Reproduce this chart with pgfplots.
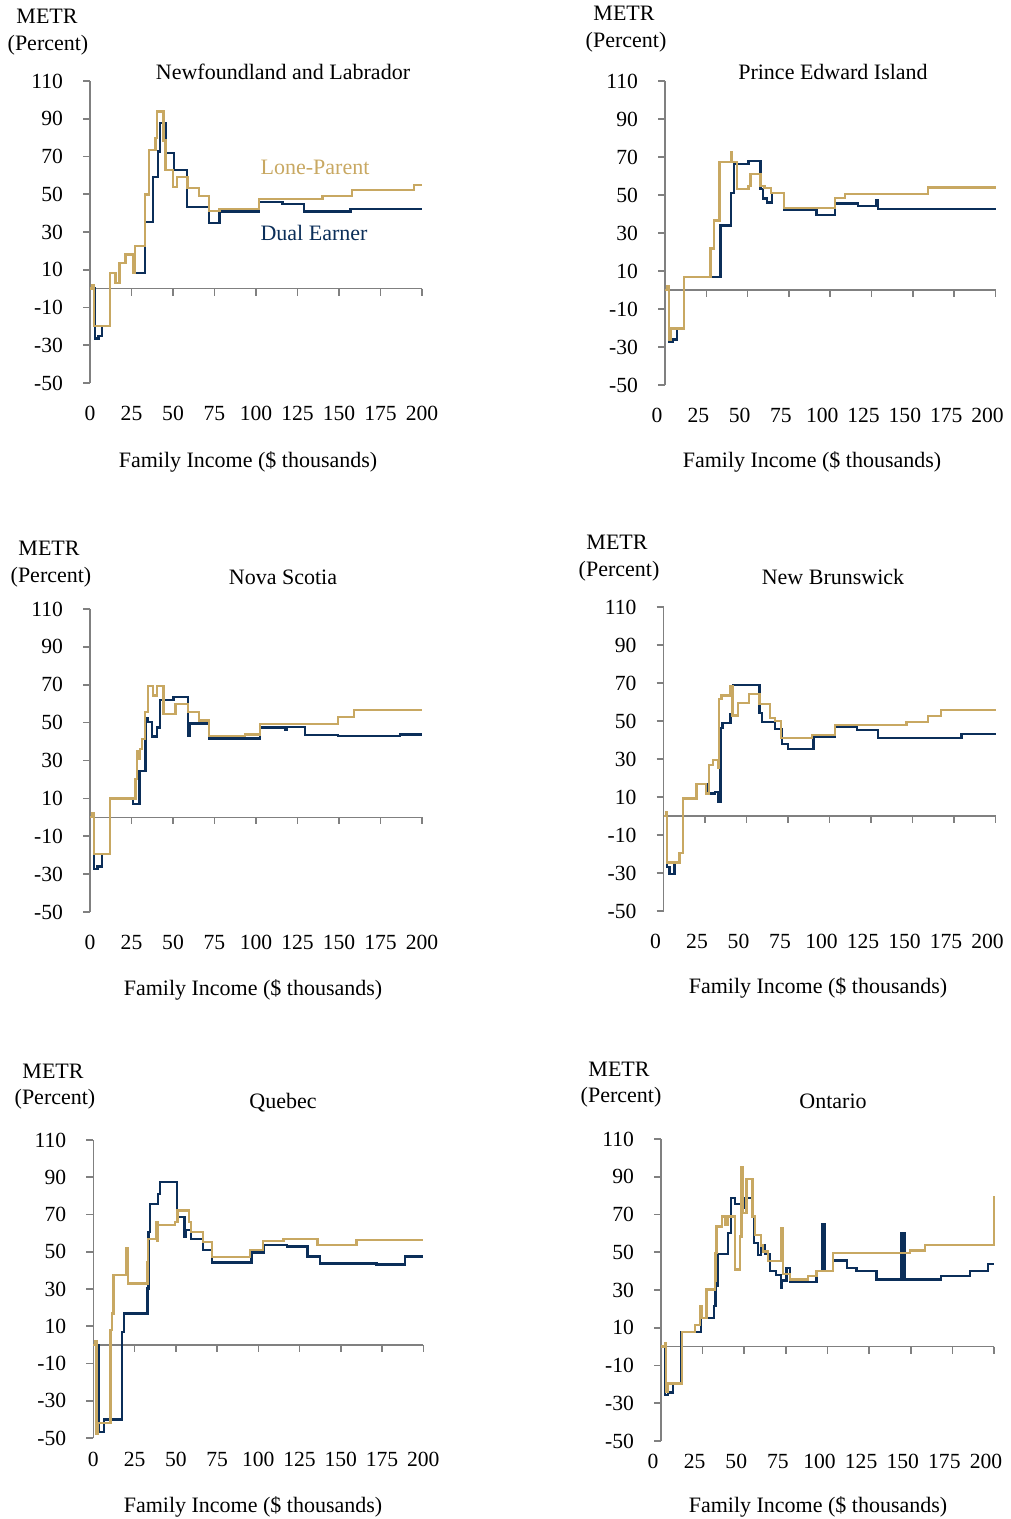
\documentclass[border=0pt]{standalone}
\usepackage{fontspec}
\setmainfont{Liberation Serif}
\usepackage{pgfplots}
\pgfplotsset{compat=1.18}
\definecolor{navy}{HTML}{0B2E59}
\definecolor{gold}{HTML}{C8A862}
\definecolor{axgray}{HTML}{808080}
\newcommand{\tf}{\fontsize{10.8}{13}\selectfont}
\pgfplotsset{
 metr/.style={
  scale only axis, anchor=south west,
  xmin=0,xmax=200,ymin=-50,ymax=110,
  axis x line*=bottom, axis y line*=left,
  x axis line style={draw=none},
  y axis line style={draw=axgray,line width=0.8pt,-},
  xtick={0,25,...,200}, ytick={-50,-30,...,110},
  xtick style={draw=none},
  ytick style={draw=axgray,line width=0.8pt},
  tick align=outside, major tick length=3.5pt,
  tick label style={font=\tf},
  /pgf/number format/assume math mode=true,
  yticklabel style={xshift=-6.5pt},
  xticklabel style={yshift=-4.5pt},
  clip=false,
  every axis plot/.append style={const plot, line width=1.15pt, no markers},
 },
 rightcol/.style={xticklabel style={xshift=-4pt}},
}
\newcommand{\zeroline}{%
 \draw[axgray,line width=0.8pt] (axis cs:0,0) -- (axis cs:200,0);
 \pgfplotsinvokeforeach{25,50,75,100,125,150,175,200}{\draw[axgray,line width=0.8pt] (axis cs:##1,0) -- (axis cs:##1,-3.7);}
}
\begin{document}
\begin{tikzpicture}
% ---------- Newfoundland and Labrador
\begin{axis}[metr, at={(45pt,-191.5pt)}, width=166pt, height=151pt]
\zeroline
\addplot[navy] coordinates {(0,0) (3,-26.4) (5.2,-25) (7.2,-19.7) (12,8.1) (15.3,2.8) (17.7,13.4) (21.3,18.1) (27.3,8.1) (33.3,35.2) (37.8,59.2) (40.8,72.7) (42.2,87.7) (45.8,71.8) (50.8,62.7) (58.4,43.3) (71.5,34.9) (78,40.8) (102,45.9) (116,44.7) (129,40.8) (157,42.2) (200,42.2)};
\addplot[gold] coordinates {(0,0) (1.5,2) (2.6,-19.7) (12,8.1) (15.3,2.8) (17.7,13.4) (21.3,18.1) (25.7,8.1) (27.3,22.5) (33.3,49.8) (35.7,73.6) (39.4,79.8) (40.2,93.8) (44.2,78.5) (45.4,63) (50.2,53.9) (52.2,59.2) (58.8,53.3) (65.5,48.9) (71.5,41.2) (78,42.2) (102,47.3) (140,49.2) (158,52.4) (195,54.8) (200,54.8)};
\end{axis}
% ---------- Prince Edward Island
\begin{axis}[metr, rightcol, at={(332.5pt,-192.5pt)}, width=165.25pt, height=152pt]
\zeroline
\addplot[navy] coordinates {(0,0) (2.6,-27.2) (4.6,-26) (7.3,-20.2) (11.7,7) (33.5,33.9) (40,51.2) (41.6,66.3) (50.5,68) (57.8,53) (59.2,48.2) (61.8,46) (64.6,50.9) (71.9,42.3) (91.7,39.5) (102.8,45.6) (116.9,44.2) (128,47.4) (129,42.6) (200,42.6)};
\addplot[gold] coordinates {(0,0) (1.5,1.8) (2.4,-26) (3.6,-20.2) (11.7,7) (27.5,21.9) (29.5,36.5) (32.9,67.5) (40,72.8) (40.5,67.5) (43.6,53) (50.5,54.7) (51.7,60.9) (57.8,54.7) (60.2,53.5) (64.2,51.2) (71.9,43.3) (102.8,48.6) (108.9,50.4) (159.3,53.9) (200,53.9)};
\end{axis}
% ---------- Nova Scotia
\begin{axis}[metr, at={(45pt,-456pt)}, width=166pt, height=151.5pt]
\zeroline
\addplot[navy] coordinates {(0,0) (2.6,-27.3) (4.6,-26) (7.2,-19.4) (12.1,10) (25.8,7) (29.8,24.6) (33.4,52.5) (34.8,50.2) (37.4,42.6) (40.2,47.5) (42.3,62) (50.3,63.4) (58.9,43.1) (60,49.6) (71.5,41.7) (102.3,47.5) (117.4,46) (118.8,47.8) (129.4,43.4) (149.4,42.9) (186.6,43.8) (200,43.8)};
\addplot[gold] coordinates {(0,0) (1.5,2) (2.6,-19.4) (12.1,10) (27.4,20.2) (28.2,35.2) (29,30.8) (30,36) (31.4,41.4) (33,55.5) (34.8,69.5) (37.8,64.3) (40.2,69.5) (44.2,54.6) (51.5,59.9) (58.9,55.5) (65.5,51.1) (71.5,42.9) (93.3,43.8) (102.3,49.2) (149.4,53.1) (158.9,56.6) (200,56.6)};
\end{axis}
% ---------- New Brunswick
\begin{axis}[metr, rightcol, at={(331.75pt,-455.5pt)}, width=166pt, height=152pt]
\zeroline
\addplot[navy] coordinates {(0,0) (2,-27) (3.6,-30.6) (6.7,-24.4) (9.7,-19.6) (11.7,9.2) (19.8,16.8) (25.9,11.9) (30.9,12.7) (32.9,7.4) (34.3,37.5) (34.8,46.4) (35.6,49) (40.4,53.5) (42,68.8) (57.8,54.3) (59.2,49.4) (67.3,45.8) (71.3,37.9) (75.2,35.1) (90.3,41.4) (103.3,46.7) (116.4,45.3) (129.4,41.2) (179.5,43) (200,43)};
\addplot[gold] coordinates {(0,0) (1.5,2) (2.2,-24.4) (9.7,-19.6) (11.7,9.2) (19.8,16.8) (25.5,11.9) (27.5,26.9) (30,29.6) (33,25.1) (33.5,61.4) (35,63.5) (40.4,68.5) (41.6,52.9) (45,59.6) (51.7,64.1) (57.8,58.8) (64.2,51.7) (67.3,49.9) (70.7,41.2) (89.3,42.6) (103.3,47.9) (146.4,49.6) (159.5,52.8) (167.1,55.8) (200,55.8)};
\end{axis}
% ---------- Quebec
\begin{axis}[metr, at={(46.65pt,-719pt)}, width=165pt, height=149pt, xticklabel style={yshift=4.5pt}]
\zeroline
\addplot[navy] coordinates {(0,0) (3.4,-46.9) (6.5,-40.1) (17.6,7.1) (18.7,16.9) (32.9,30.3) (33.5,60.6) (34.5,75.8) (39.4,81.1) (40.6,87.3) (50.7,68.6) (55.2,57.9) (56.2,61.5) (59.2,57) (66.3,50.8) (71.8,44.2) (95.9,49.6) (103.4,53.7) (117.2,52.8) (129.9,47.4) (137.4,43.7) (171.7,43.1) (188.9,47.4) (200,47.4)};
\addplot[gold] coordinates {(0,0) (1.4,1.8) (2,-48) (2.8,-41.9) (10.5,8) (11.5,16.9) (12.2,37.4) (19.7,51.7) (21.1,33) (32.9,44.6) (33.3,57) (37.9,66) (38.9,56.1) (39.3,64.2) (49.5,66) (51.1,72.2) (58.2,66) (59.2,60.6) (66.3,55.3) (71.8,47.2) (94.9,51) (103,55.8) (115.2,57) (135.8,53.5) (159.6,56.3) (200,56.3)};
\end{axis}
% ---------- Ontario
\begin{axis}[metr, rightcol, at={(330.5pt,-720.5pt)}, width=166.5pt, height=151pt, xticklabel style={yshift=5pt}]
\zeroline
\addplot[navy] coordinates {(0,0) (2.4,-25.5) (4.4,-24.3) (7.4,-19.5) (12,7.9) (24,15.3) (32,21.4) (32.8,32) (34,49) (40.4,60.1) (42,78.6) (44.4,75.4) (48.8,73.3) (50.4,78.9) (54.8,68.9) (56,54.8) (58.4,48.7) (60,54) (62.4,49) (65.4,39.9) (69,38.1) (72,31) (72.6,35) (75.4,41.7) (77.4,34.3) (93.4,40.2) (97,64.9) (98.6,40.2) (103.5,45.7) (111.5,41.7) (117.5,39.9) (129.5,35.5) (144.5,60.3) (146.3,35.5) (168.2,37.6) (185.6,39.9) (196.2,43.8) (200,43.8)};
\addplot[gold] coordinates {(0,0) (2.4,2.1) (3,-23.7) (4,-19.5) (12.4,7.9) (20.4,11.4) (23.4,21.4) (24.6,15.3) (27.4,30.2) (32.4,34.6) (32.8,49.6) (33.4,63.6) (36.8,68.9) (38.8,64.5) (40,68.9) (44.4,40.8) (47.6,58.3) (48.4,95.2) (49,70.7) (51.4,88.7) (55,68.9) (56.4,59.2) (60,53.6) (61.4,50.4) (64.4,45.2) (72.4,62.7) (73.4,38.5) (77.4,35.5) (88.4,37.3) (93.4,40.2) (103.4,49.6) (149.5,50.9) (158.5,53.7) (200,79.8)};
\end{axis}
% ---------- texts
\begin{scope}[x=0.5pt,y=-0.5pt, every node/.style={font=\fontsize{11}{13}\selectfont, inner sep=0pt, anchor=base}]
\path[use as bounding box] (0,0) rectangle (1005,1519);
\node at (283,80) {Newfoundland and Labrador};
\node at (833,80) {Prince Edward Island};
\node at (283,584) {Nova Scotia};
\node at (833,584) {New Brunswick};
\node at (283,1108) {Quebec};
\node at (833,1108) {Ontario};
\node[text=gold] at (315,175) {Lone-Parent};
\node[text=navy] at (314,241) {Dual Earner};
\node at (47,24) {METR}; \node at (48,51) {(Percent)};
\node at (624,21) {METR}; \node at (626,48) {(Percent)};
\node at (49,555) {METR}; \node at (51,582) {(Percent)};
\node at (617,549) {METR}; \node at (619,576) {(Percent)};
\node at (53,1078) {METR}; \node at (55,1104) {(Percent)};
\node at (619,1076) {METR}; \node at (621,1102) {(Percent)};
\node at (248,467) {Family Income (\$ thousands)};
\node at (812,467) {Family Income (\$ thousands)};
\node at (253,995) {Family Income (\$ thousands)};
\node at (818,993) {Family Income (\$ thousands)};
\node at (253,1512) {Family Income (\$ thousands)};
\node at (818,1512) {Family Income (\$ thousands)};
\end{scope}
\end{tikzpicture}
\end{document}
